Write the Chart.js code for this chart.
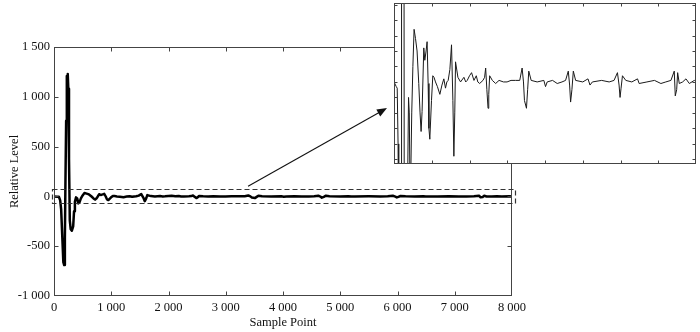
<!DOCTYPE html>
<html>
<head>
<meta charset="utf-8">
<script src="https://cdn.jsdelivr.net/npm/chart.js@4.4.1/dist/chart.umd.min.js"></script>
<style>
  html, body { margin: 0; padding: 0; background: #fff; }
  #wrap { position: relative; width: 700px; height: 332px; overflow: hidden; }
  #mainChart { position: absolute; left: 0; top: 0; }
  #insetBox { position: absolute; left: 394px; top: 3px; width: 302px; height: 161px; background: #fff; }
</style>
</head>
<body>
<div id="wrap">
  <canvas id="mainChart" width="700" height="332"></canvas>
  <div id="insetBox"><canvas id="insetChart" width="302" height="161"></canvas></div>
</div>
<script>
// signal (sample index, relative level)
const samplePoints = [
  0, 60, 85, 108, 125, 148, 163, 178, 190, 200, 212, 224, 232, 240, 250, 262, 276, 292, 312, 335,
  350, 365, 385, 405, 425, 445, 470, 500, 532, 570, 611, 656, 690, 718, 744, 789, 816, 850, 877, 904,
  925, 949, 993, 1028, 1060, 1099, 1150, 1215, 1270, 1320, 1364, 1400, 1435, 1480, 1524, 1560, 1586, 1610, 1630, 1693,
  1763, 1852, 1900, 1940, 2000, 2055, 2118, 2180, 2220, 2269, 2357, 2400, 2428, 2460, 2491, 2510, 2534, 2605, 2693, 2783,
  2900, 2995, 3100, 3216, 3331, 3394, 3430, 3456, 3509, 3540, 3570, 3634, 3793, 3969, 4014, 4058, 4200, 4324, 4450, 4545,
  4617, 4652, 4678, 4713, 4750, 4811, 5000, 5139, 5192, 5255, 5500, 5700, 5829, 5919, 5962, 5988, 6015, 6052, 6140, 6300,
  6451, 6494, 6700, 6900, 7070, 7200, 7336, 7424, 7451, 7488, 7514, 7557, 7646, 7734, 7823, 7956, 8000
];
const relativeLevel = [
  0, -3, -4, -40, -130, -450, -660, -690, -420, 150, 760, 1210, 1150, 1230, 1080, 380, -240, -330, -345, -300,
  -150, -55, -10, -20, -70, -60, -20, 10, 34, 28, 20, -1, -20, -32, -19, 22, 14, 20, 26, -1,
  -30, -37, -12, 4, 3, 0, -3, -8, -2, 2, -4, 0, 1, 8, 24, -12, -48, -20, 13, 3,
  0, 3, 0, 1, 4, 6, 1, 4, 0, -1, 1, 3, 9, -5, -17, -8, 4, 1, -1, 1,
  0, 0, 1, 1, 1, 9, 0, -12, -17, -5, 7, 1, 0, 1, -3, 0, 1, -1, 0, 1,
  7, -2, -13, -5, 7, 1, 0, 2, -2, 0, 1, 0, 1, 6, -2, -10, -4, 4, 1, 0,
  2, -1, 0, 1, -1, 0, 1, 7, -9, -5, 6, -1, 0, 2, -1, 1, 0
];

const xTicks = [0, 1000, 2000, 3000, 4000, 5000, 6000, 7000, 8000];
const xTickLabels = ['0', '1 000', '2 000', '3 000', '4 000', '5 000', '6 000', '7 000', '8 000'];
const yTicks = [-1000, -500, 0, 500, 1000, 1500];
const yTickLabels = ['-1 000', '-500', '0', '500', '1 000', '1 500'];

// zoomed window (dashed box) and the inset's own scale
const zoomBoxX = [-40, 8040];
const zoomBoxY = [-72, 72];
const insetYRange = [-53, 51];
const insetXTicks = [1000, 2000, 3000, 4000, 5000, 6000, 7000];
const insetYTicks = [-50, -40, -30, -20, -10, 0, 10, 20, 30, 40, 50];
const arrowFromSample = 3390;

const points = samplePoints.map((s, i) => ({ x: s, y: relativeLevel[i] }));
const serif = "'Liberation Serif', 'Times New Roman', serif";
const frameColor = '#444';

// box plus inward tick marks on all four sides
function drawFrame(ctx, a, xs, ys, scaleX, scaleY, len) {
  const l = Math.round(a.left) + 0.5, r = Math.round(a.right) - 0.5;
  const t = Math.round(a.top) + 0.5, b = Math.round(a.bottom) - 0.5;
  ctx.strokeStyle = frameColor;
  ctx.lineWidth = 1;
  ctx.strokeRect(l, t, r - l, b - t);
  ctx.beginPath();
  xs.forEach(v => {
    const px = Math.round(scaleX.getPixelForValue(v)) + 0.5;
    if (px <= l + 1 || px >= r - 1) return;
    ctx.moveTo(px, b); ctx.lineTo(px, b - len);
    ctx.moveTo(px, t); ctx.lineTo(px, t + len);
  });
  ys.forEach(v => {
    const py = Math.round(scaleY.getPixelForValue(v)) + 0.5;
    if (py <= t + 1 || py >= b - 1) return;
    ctx.moveTo(l, py); ctx.lineTo(l + len, py);
    ctx.moveTo(r, py); ctx.lineTo(r - len, py);
  });
  ctx.stroke();
}

const mainDecor = {
  id: 'mainDecor',
  afterDatasetsDraw(chart) {
    const { ctx, chartArea, scales: { x, y } } = chart;
    ctx.save();
    drawFrame(ctx, chartArea, xTicks, yTicks, x, y, 4);

    // dashed box around the zoomed band
    const bx0 = x.getPixelForValue(zoomBoxX[0]), bx1 = x.getPixelForValue(zoomBoxX[1]);
    const by0 = y.getPixelForValue(zoomBoxY[1]), by1 = y.getPixelForValue(zoomBoxY[0]);
    ctx.setLineDash([5, 3]);
    ctx.strokeStyle = '#333';
    ctx.lineWidth = 1.2;
    ctx.strokeRect(Math.round(bx0) + 0.5, Math.round(by0) + 0.5, Math.round(bx1 - bx0), Math.round(by1 - by0));
    ctx.setLineDash([]);

    // arrow to the inset
    const box = document.getElementById('insetBox');
    const sx = x.getPixelForValue(arrowFromSample), sy = by0 - 3;
    const ex = box.offsetLeft - 7, ey = box.offsetTop + 105;
    const ang = Math.atan2(ey - sy, ex - sx);
    ctx.strokeStyle = '#111';
    ctx.fillStyle = '#111';
    ctx.lineWidth = 1.1;
    ctx.beginPath();
    ctx.moveTo(sx, sy);
    ctx.lineTo(ex - 8 * Math.cos(ang), ey - 8 * Math.sin(ang));
    ctx.stroke();
    ctx.beginPath();
    ctx.moveTo(ex, ey);
    ctx.lineTo(ex - 10 * Math.cos(ang) + 4 * Math.sin(ang), ey - 10 * Math.sin(ang) - 4 * Math.cos(ang));
    ctx.lineTo(ex - 10 * Math.cos(ang) - 4 * Math.sin(ang), ey - 10 * Math.sin(ang) + 4 * Math.cos(ang));
    ctx.closePath();
    ctx.fill();
    ctx.restore();
  }
};

new Chart(document.getElementById('mainChart'), {
  type: 'line',
  data: {
    datasets: [{
      data: points,
      borderColor: '#000',
      borderWidth: 2.5,
      borderJoinStyle: 'round',
      pointRadius: 0,
      tension: 0,
    }],
  },
  options: {
    responsive: false,
    animation: false,
    events: [],
    layout: { padding: { top: 47, right: 188, left: 0, bottom: 0 } },
    plugins: { legend: { display: false }, tooltip: { enabled: false } },
    scales: {
      x: {
        type: 'linear',
        min: 0,
        max: 8000,
        afterBuildTicks: s => { s.ticks = xTicks.map(v => ({ value: v })); },
        afterFit: s => { s.height = 36; },
        grid: { display: false, drawTicks: false },
        border: { display: false },
        ticks: {
          color: '#111',
          padding: 4,
          maxRotation: 0,
          autoSkip: false,
          font: { family: serif, size: 12.5 },
          callback: (v, i) => xTickLabels[i],
        },
        title: {
          display: true,
          text: 'Sample Point',
          color: '#111',
          padding: { top: 0, bottom: 2 },
          font: { family: serif, size: 12.5 },
        },
      },
      y: {
        type: 'linear',
        min: -1000,
        max: 1500,
        afterBuildTicks: s => { s.ticks = yTicks.map(v => ({ value: v })); },
        afterFit: s => { s.width = 54; },
        grid: { display: false, drawTicks: false },
        border: { display: false },
        ticks: {
          color: '#111',
          padding: 4,
          autoSkip: false,
          font: { family: serif, size: 12.5 },
          callback: (v, i) => yTickLabels[i],
        },
        title: {
          display: true,
          text: 'Relative Level',
          color: '#111',
          padding: { top: 7, bottom: 0 },
          font: { family: serif, size: 12.5 },
        },
      },
    },
  },
  plugins: [mainDecor],
});

const insetDecor = {
  id: 'insetDecor',
  afterDatasetsDraw(chart) {
    const { ctx, chartArea, scales: { x, y } } = chart;
    ctx.save();
    drawFrame(ctx, chartArea, insetXTicks, insetYTicks, x, y, 3);
    ctx.restore();
  }
};

new Chart(document.getElementById('insetChart'), {
  type: 'line',
  data: {
    datasets: [{
      data: points,
      borderColor: '#1a1a1a',
      borderWidth: 1,
      pointRadius: 0,
      tension: 0,
    }],
  },
  options: {
    responsive: false,
    animation: false,
    events: [],
    layout: { padding: 0 },
    plugins: { legend: { display: false }, tooltip: { enabled: false } },
    scales: {
      x: { type: 'linear', min: 0, max: 8000, display: false },
      y: { type: 'linear', min: insetYRange[0], max: insetYRange[1], display: false },
    },
  },
  plugins: [insetDecor],
});
</script>
</body>
</html>
